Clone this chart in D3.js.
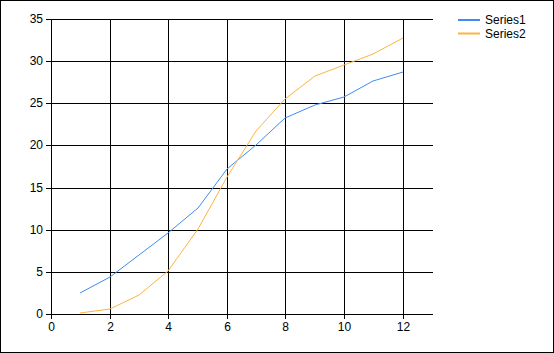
<!DOCTYPE html>
<head>
	<script src="https://d3js.org/d3.v7.min.js"></script>
	<style type="text/css">
		body { margin: 0; background: #fff; }
		svg { display: block; }
		text { font-family: "Liberation Sans", Arial, sans-serif; }
	</style>
</head>
<body>
	<div id="chart"></div>
</body>
<script>

	// data
	var xValues = [1, 2, 3, 4, 5, 6, 7, 8, 9, 10, 11, 12];
	var series1 = [2.5, 4.4, 7.0, 9.6, 12.6, 17.2, 20.0, 23.3, 24.8, 25.7, 27.7, 28.7];
	var series2 = [0.1, 0.6, 2.3, 5.1, 10.1, 16.3, 21.7, 25.5, 28.2, 29.6, 30.9, 32.7];
	var seriesNames = ["Series1", "Series2"];
	var xTicks = [0, 2, 4, 6, 8, 10, 12];
	var yTicks = [0, 5, 10, 15, 20, 25, 30, 35];

	var colors = ["#418CF0", "#FCB441"];
	var W = 554, H = 353;
	// plot area edges (not "top": that name is taken by window.top)
	var pLeft = 51, pRight = 432, pTop = 19, pBottom = 314;

	var svg = d3.select("#chart").append("svg")
		.attr("width", W)
		.attr("height", H);

	// outer frame
	svg.append("rect")
		.attr("x", 0.5).attr("y", 0.5)
		.attr("width", W - 1).attr("height", H - 1)
		.attr("fill", "white")
		.attr("stroke", "black");

	var x = d3.scaleLinear().domain([0, 13]).rangeRound([pLeft, pRight]);
	var y = d3.scaleLinear().domain([0, 35]).rangeRound([pBottom, pTop]);

	// grid
	svg.append("g")
		.attr("transform", "translate(0," + pBottom + ")")
		.call(d3.axisBottom(x).tickValues(xTicks).tickSize(-(pBottom - pTop)).tickFormat(""))
		.call(g => g.select(".domain").remove());
	svg.append("g")
		.attr("transform", "translate(" + pLeft + ",0)")
		.call(d3.axisLeft(y).tickValues(yTicks).tickSize(-(pRight - pLeft + 1)).tickFormat(""))
		.call(g => g.select(".domain").remove());

	// axes with labels
	svg.append("g")
		.attr("transform", "translate(0," + pBottom + ")")
		.call(d3.axisBottom(x).tickValues(xTicks).tickSize(5).tickSizeOuter(0).tickPadding(3));
	svg.append("g")
		.attr("transform", "translate(" + pLeft + ",0)")
		.call(d3.axisLeft(y).tickValues(yTicks).tickSize(5).tickSizeOuter(0).tickPadding(3));

	svg.selectAll(".tick line").attr("stroke", "black");
	svg.selectAll(".domain").attr("stroke", "black");
	svg.selectAll(".tick text")
		.attr("fill", "black")
		.style("font-size", "12px")
		.style("font-family", "'Liberation Sans', Arial, sans-serif");

	// series lines
	var line = d3.line()
		.x((d, i) => x(xValues[i]))
		.y(d => y(d));

	[series1, series2].forEach(function(s, i) {
		svg.append("path")
			.datum(s)
			.attr("fill", "none")
			.attr("stroke", colors[i])
			.attr("stroke-width", 1)
			.attr("d", line);
	});

	// legend
	var legend = svg.append("g").attr("transform", "translate(458,20)");
	var item = legend.selectAll("g")
		.data(seriesNames)
		.enter().append("g")
		.attr("transform", (d, i) => "translate(0," + (i * 13.5) + ")");
	item.append("line")
		.attr("x1", 0).attr("x2", 22)
		.attr("y1", 0).attr("y2", 0)
		.attr("stroke", (d, i) => colors[i])
		.attr("stroke-width", 2);
	item.append("text")
		.attr("x", 27)
		.attr("y", 0)
		.attr("dy", "0.35em")
		.style("font-size", "12px")
		.text(d => d);

</script>
